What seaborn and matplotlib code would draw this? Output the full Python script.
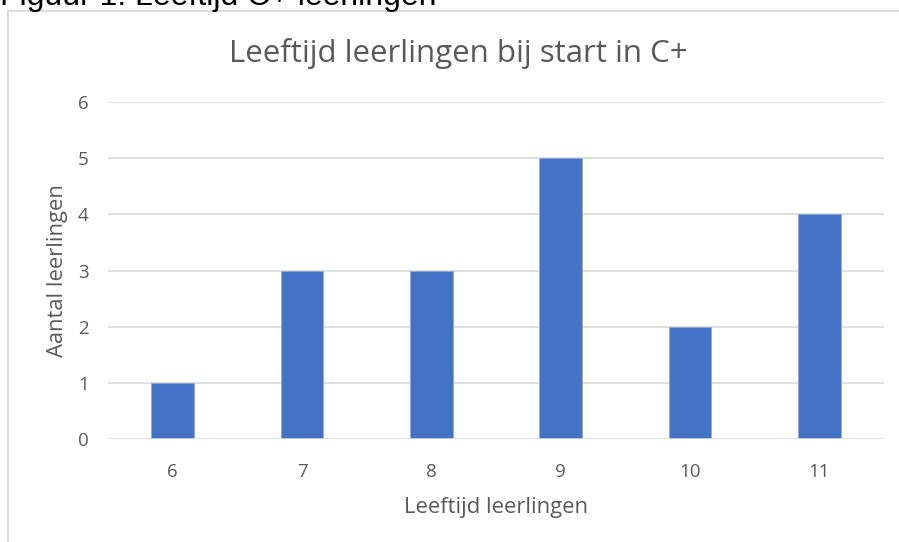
import matplotlib
matplotlib.use("Agg")
import matplotlib.pyplot as plt
import seaborn as sns
import pandas as pd
from matplotlib.lines import Line2D

ages = ["6", "7", "8", "9", "10", "11"]
counts = [1, 3, 3, 5, 2, 4]
yticks = [0, 1, 2, 3, 4, 5, 6]

df = pd.DataFrame({"Leeftijd": ages, "Aantal": counts})

sns.set_theme(style="white")
plt.rcParams['font.family'] = ['Open Sans', 'DejaVu Sans']

W, H = 899, 542
fig = plt.figure(figsize=(W / 100, H / 100), dpi=100)

# chart border (left and top visible)
fig.add_artist(Line2D([7.5 / W, 7.5 / W], [0, 1 - 10.5 / H], color="#D9D9D9", lw=1.3, transform=fig.transFigure))
fig.add_artist(Line2D([7.5 / W, 1], [1 - 10.5 / H, 1 - 10.5 / H], color="#D9D9D9", lw=1.3, transform=fig.transFigure))

# cut-off page caption
fig.text(0.0, 1 - 5 / H, "Figuur 1: Leeftijd C+ leerlingen", fontsize=23, color="black",
         family=["Liberation Sans", "DejaVu Sans"], ha="left", va="baseline")

left, right, top, bottom = 108, 884, 102, 439
ax = fig.add_axes([left / W, 1 - bottom / H, (right - left) / W, (bottom - top) / H])

sns.barplot(data=df, x="Leeftijd", y="Aantal", order=ages, color="#4472C4",
            width=0.33, saturation=1, edgecolor="#8FAADC", linewidth=0.6, ax=ax, zorder=3)

ax.set_ylim(0, 6)
ax.set_xlim(-0.5, len(ages) - 0.5)
ax.set_yticks(yticks)
ax.set_yticklabels([str(t) for t in yticks])
for t in yticks:
    ax.axhline(t, color="#D9D9D9", lw=1.2, zorder=1 if t > 0 else 4)
for s in ax.spines.values():
    s.set_visible(False)
ax.tick_params(axis="both", length=0, labelsize=13.5, labelcolor="#595959")
ax.tick_params(axis="y", pad=14)
ax.tick_params(axis="x", pad=17)
ax.set_xlabel("Leeftijd leerlingen", fontsize=15.8, color="#595959", labelpad=12)
ax.set_ylabel("Aantal leerlingen", fontsize=15.8, color="#595959", labelpad=7)
ax.grid(False)

fig.text(458 / W, 1 - 62 / H, "Leeftijd leerlingen bij start in C+", fontsize=22.5,
         color="#595959", ha="center", va="baseline")

fig.savefig("out.png", dpi=100)
